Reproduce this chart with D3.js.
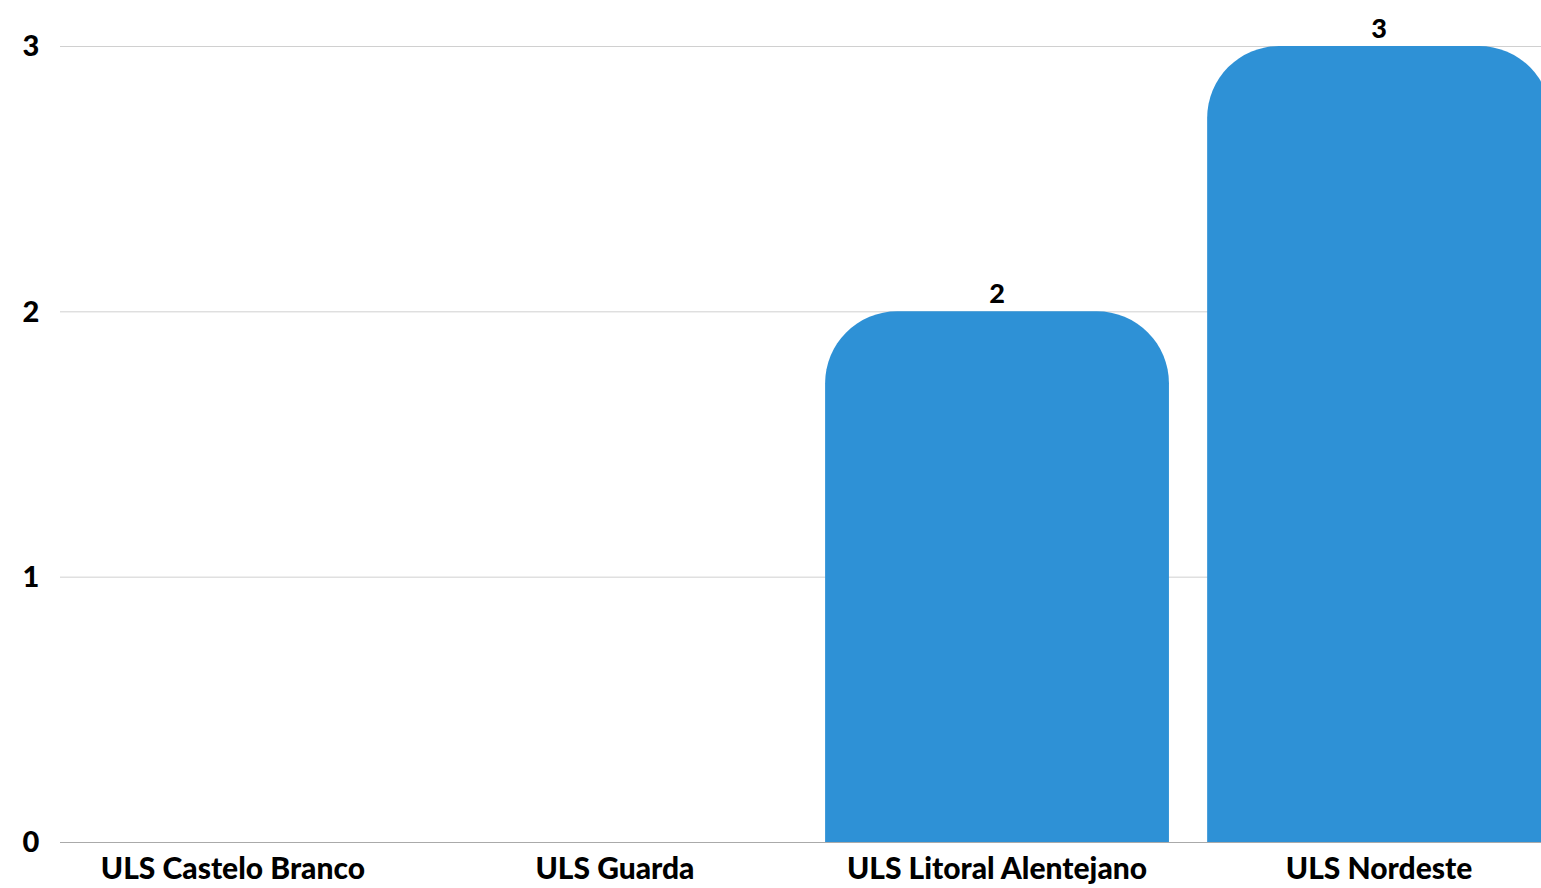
<!DOCTYPE html>
<html><head><meta charset="utf-8">
<script src="https://cdn.jsdelivr.net/npm/d3@7"></script>
<style>body{margin:0;background:#fff}svg{display:block}text{font-family:Lato,sans-serif;font-weight:900;fill:#000}</style>
</head><body><svg id="c" width="1541" height="888"></svg>
<script>
const categories = ["ULS Castelo Branco","ULS Guarda","ULS Litoral Alentejano","ULS Nordeste"];
const values = [0,0,2,3];
const yTicks = [0,1,2,3];

const svg = d3.select("#c");
const x = d3.scaleBand().domain(categories).range([61,1551]).paddingInner(0.1).paddingOuter(0);
const y = d3.scaleLinear().domain([0,3]).range([842,46]);

svg.append("g").selectAll("line").data(yTicks).join("line")
  .attr("x1",60).attr("x2",1541).attr("y1",d=>y(d)+0.5).attr("y2",d=>y(d)+0.5)
  .attr("stroke",d=>d===0?"#aaa":"#d0d0d0").attr("stroke-width",1);

svg.append("g").selectAll("text").data(yTicks).join("text")
  .attr("x",31).attr("y",d=>y(d)).attr("dy","0.36em").attr("text-anchor","middle")
  .style("font-size","29px").text(d=>d);

function barPath(x0,w,top,bottom,r){
  r=Math.min(r,w/2,bottom-top);
  if(r<=0) return "";
  return `M${x0},${bottom}V${top+r}A${r},${r} 0 0 1 ${x0+r},${top}H${x0+w-r}A${r},${r} 0 0 1 ${x0+w},${top+r}V${bottom}Z`;
}
const data = categories.map((c,i)=>({c,v:values[i]}));
svg.append("g").selectAll("path").data(data.filter(d=>d.v>0)).join("path")
  .attr("d",d=>barPath(x(d.c),x.bandwidth(),y(d.v),y(0),72))
  .attr("fill","#2e91d6");

svg.append("g").selectAll("text").data(data.filter(d=>d.v>0)).join("text")
  .attr("x",d=>x(d.c)+x.bandwidth()/2).attr("y",d=>y(d.v)-8).attr("text-anchor","middle")
  .style("font-size","27px").text(d=>d.v);

svg.append("g").selectAll("text").data(categories).join("text")
  .attr("x",d=>x(d)+x.bandwidth()/2).attr("y",879).attr("text-anchor","middle")
  .style("font-size","30px").text(d=>d);
</script></body></html>
